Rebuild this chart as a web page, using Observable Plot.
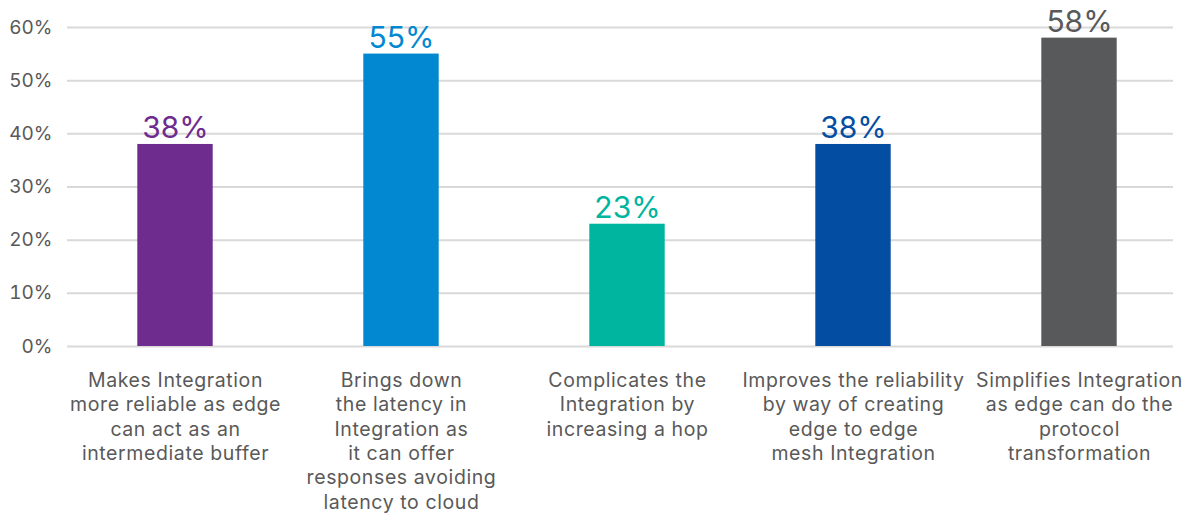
<!DOCTYPE html>
<html>
<head>
<meta charset="utf-8">
<script src="https://cdn.jsdelivr.net/npm/d3@7"></script>
<script src="https://cdn.jsdelivr.net/npm/@observablehq/plot@0.6"></script>
<style>
  html, body { margin: 0; padding: 0; background: #ffffff; }
  #chart svg { display: block; }
  /* slightly looser tracking for the category captions */
  #chart g[aria-label="x-axis tick label"] text { letter-spacing: 0.6px; }
</style>
</head>
<body>
<div id="chart"></div>
<script>
// Share of respondents agreeing with each statement about edge in integration
const categories = [
  "Makes Integration\nmore reliable as edge\ncan act as an\nintermediate buffer",
  "Brings down\nthe latency in\nIntegration as\nit can offer\nresponses avoiding\nlatency to cloud",
  "Complicates the\nIntegration by\nincreasing a hop",
  "Improves the reliability\nby way of creating\nedge to edge\nmesh Integration",
  "Simplifies Integration\nas edge can do the\nprotocol\ntransformation"
];
const values = [38, 55, 23, 38, 58];
const colors = ["#6E2C8F", "#0288D1", "#00B59F", "#034EA2", "#58595B"];
const yTicks = [0, 10, 20, 30, 40, 50, 60];

const data = categories.map((c, i) => ({category: c, value: values[i], color: colors[i]}));

const chart = Plot.plot({
  width: 1196,
  height: 513,
  marginTop: 27,
  marginBottom: 167,
  marginLeft: 60,
  marginRight: 3,
  style: {fontFamily: "Inter, sans-serif", background: "#ffffff", color: "#595959"},
  x: {domain: categories, padding: 0, axis: null},
  y: {domain: [0, 60], axis: null},
  marks: [
    Plot.ruleY(yTicks, {stroke: "#d9d9d9", strokeWidth: 2, insetLeft: 7, insetRight: 20}),
    Plot.axisY(yTicks, {
      tickFormat: d => d + "%", tickSize: 0, tickPadding: 8,
      fontSize: 19, fill: "#595959", label: null
    }),
    Plot.barY(data, {x: "category", y: "value", fill: "color", insetLeft: 75.3, insetRight: 75.3}),
    Plot.text(data, {
      x: "category", y: "value", text: d => d.value + "%",
      fill: "color", fontSize: 30, lineAnchor: "bottom", dy: -6
    }),
    Plot.axisX(categories, {
      tickSize: 0, tickPadding: 23, fontSize: 19.5, lineHeight: 1.25,
      fill: "#595959", label: null, tickFormat: d => d
    })
  ]
});

document.getElementById("chart").appendChild(chart);
</script>
</body>
</html>
